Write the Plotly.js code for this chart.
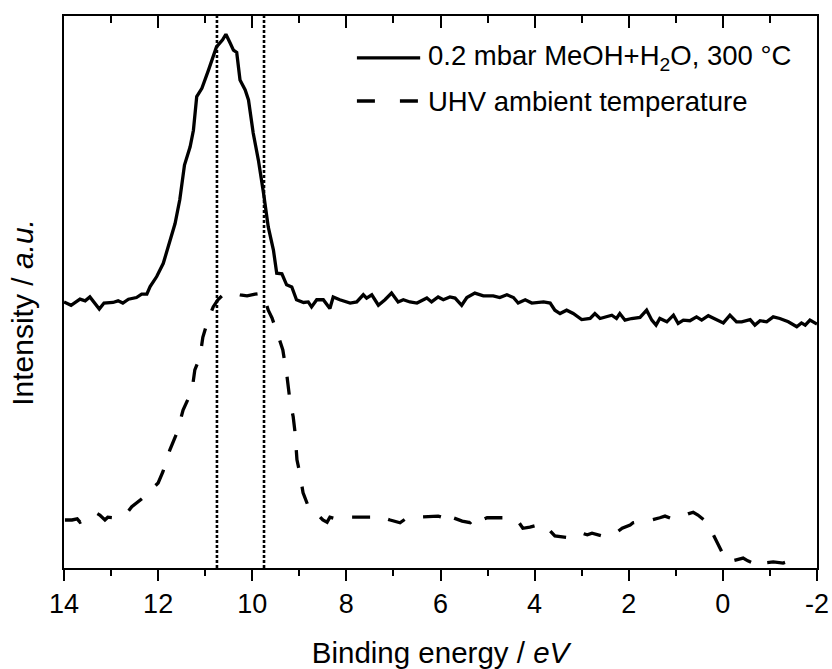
<!DOCTYPE html>
<html>
<head>
<meta charset="utf-8">
<script src="https://cdn.plot.ly/plotly-3.0.1.min.js"></script>
<style>html,body{margin:0;padding:0;background:#fff;}</style>
</head>
<body>
<div id="chart" style="width:832px;height:669px;"></div>
<script>
// Binding energy (eV) and intensity (a.u.)
const seriesNames = ["0.2 mbar MeOH+H<sub>2</sub>O, 300 °C", "UHV ambient temperature"];

const solidX = [14.0,13.85,13.66,13.55,13.45,13.36,13.25,13.15,12.96,12.85,12.75,12.63,12.46,12.35,12.24,12.17,12.03,11.89,11.75,11.64,11.54,11.44,11.32,11.25,11.18,11.07,10.93,10.76,10.63,10.56,10.47,10.40,10.33,10.26,10.15,10.08,9.98,9.87,9.76,9.66,9.55,9.48,9.37,9.27,9.16,9.06,8.91,8.81,8.74,8.63,8.49,8.35,8.28,8.14,7.92,7.78,7.64,7.57,7.46,7.32,7.18,7.04,6.90,6.79,6.65,6.50,6.29,6.19,6.05,5.94,5.80,5.69,5.55,5.44,5.27,5.09,4.88,4.74,4.59,4.45,4.35,4.20,4.06,3.81,3.67,3.57,3.46,3.32,3.18,3.00,2.82,2.72,2.61,2.47,2.36,2.26,2.19,2.08,1.94,1.76,1.62,1.51,1.42,1.34,1.19,1.05,0.95,0.84,0.70,0.56,0.45,0.31,0.13,-0.01,-0.15,-0.29,-0.40,-0.58,-0.68,-0.79,-0.93,-1.07,-1.21,-1.39,-1.57,-1.67,-1.75,-1.85,-2.0];
const solidY = [48.2,47.6,48.7,48.4,49.1,48.2,46.9,48.0,48.1,48.4,48.0,48.7,49.0,49.6,49.6,51.0,52.8,55.2,59.4,62.4,66.7,73.0,76.3,79.3,85.4,86.9,90.2,94.4,95.7,96.7,95.1,93.8,93.4,88.4,86.6,84.8,78.8,73.9,67.9,61.8,57.6,53.4,53.3,51.3,50.9,48.6,48.1,48.2,47.3,48.6,48.6,47.0,49.1,48.6,48.0,48.2,49.5,48.9,49.5,47.6,48.6,49.8,48.2,48.6,48.2,48.0,48.9,48.2,49.1,48.6,49.1,48.9,47.6,49.0,49.8,49.3,49.3,49.0,49.5,49.0,48.0,48.6,48.0,48.2,48.0,46.7,46.1,46.7,46.1,45.0,45.2,46.1,45.2,45.5,45.8,45.2,46.1,44.9,45.2,45.4,46.7,44.9,44.0,45.2,44.6,45.8,44.3,44.9,44.8,45.5,44.9,45.7,45.0,44.4,45.8,44.6,44.6,45.0,44.0,44.8,44.6,45.5,45.2,44.6,43.7,44.4,44.0,44.9,44.2];

const dashX = [13.98,13.83,13.72,13.66,13.49,13.32,13.24,13.13,13.07,12.92,12.77,12.66,12.56,12.45,12.28,12.11,12.00,11.90,11.75,11.60,11.47,11.28,11.22,11.11,11.05,10.94,10.83,10.73,10.62,10.52,10.41,10.26,10.11,9.94,9.77,9.66,9.58,9.47,9.35,9.26,9.20,9.13,9.09,9.05,8.99,8.92,8.82,8.71,8.60,8.50,8.41,8.35,8.22,8.09,7.92,7.65,7.43,7.33,7.25,7.07,6.86,6.71,6.50,6.27,6.05,5.97,5.84,5.73,5.54,5.37,5.22,5.12,5.01,4.80,4.59,4.37,4.25,4.10,3.93,3.82,3.71,3.57,3.35,3.18,2.99,2.88,2.78,2.57,2.33,2.14,1.97,1.91,1.72,1.51,1.34,1.23,1.08,0.91,0.74,0.63,0.53,0.34,0.23,0.12,0.01,-0.11,-0.26,-0.43,-0.53,-0.64,-0.75,-0.85,-1.07,-1.28,-1.43,-1.58,-1.70];
const dashY = [8.7,8.7,8.9,8.3,8.9,10.0,9.6,8.7,9.2,9.1,9.4,10.0,11.1,11.8,13.0,14.5,15.4,17.4,21.4,24.5,28.6,32.2,35.9,38.2,41.8,44.9,47.3,48.6,49.5,49.8,49.8,49.5,49.3,49.6,49.8,46.7,45.3,42.6,39.5,34.6,30.4,27.4,24.5,19.6,17.2,13.6,11.4,10.1,9.6,8.7,8.3,9.2,8.9,9.1,9.2,9.2,9.2,8.9,9.2,8.7,8.2,9.1,9.2,9.2,9.4,9.2,8.0,9.1,8.5,8.2,9.6,8.7,9.1,9.1,9.1,8.7,7.2,7.4,7.8,6.9,7.1,5.8,5.6,5.4,6.3,6.0,6.3,5.8,6.0,7.2,7.8,8.2,8.5,8.7,9.1,9.4,8.9,9.2,9.8,10.1,9.6,8.3,6.5,4.5,2.7,1.1,1.4,1.8,1.3,0.9,1.6,0.9,1.1,0.9,1.3,1.4,0.9];

const markerLines = [10.75, 9.75];   // vertical dotted reference lines (eV)
const xTickVals = [14,12,10,8,6,4,2,0,-2];
const xTickText = ["14","12","10","8","6","4","2","0","-2"];
const xTitle = "Binding energy / <i>eV</i>";
const yTitle = "Intensity / <i>a.u.</i>";

const FONT = "Arial, 'Liberation Sans', sans-serif";

const traces = [
  {x: solidX, y: solidY, type: "scatter", mode: "lines", name: seriesNames[0],
   line: {color: "#000", width: 3.3}, showlegend: false},
  {x: dashX, y: dashY, type: "scatter", mode: "lines", name: seriesNames[1],
   line: {color: "#000", width: 3.3, dash: "18px,19px"}, showlegend: false}
];
markerLines.forEach(v => traces.push({
  x: [v, v], y: [0, 100], type: "scatter", mode: "lines", xaxis: "x2", yaxis: "y",
  line: {color: "#000", width: 2.6, dash: "3px,2px"}, showlegend: false, hoverinfo: "skip"
}));

// custom legend (paper coords)
const legX0 = 0.389, legX1 = 0.473, legTx = 0.481;
const legY = [0.924, 0.846];
const shapes = [
  {type: "line", xref: "paper", yref: "paper", x0: legX0, x1: legX1, y0: legY[0], y1: legY[0],
   line: {color: "#000", width: 3.3}},
  {type: "line", xref: "paper", yref: "paper", x0: legX0, x1: legX1, y0: legY[1], y1: legY[1],
   line: {color: "#000", width: 3.3, dash: "18px,25px"}}
];
const annotations = seriesNames.map((t, i) => ({
  text: t, xref: "paper", yref: "paper", x: legTx, y: legY[i], xanchor: "left", yanchor: "middle",
  showarrow: false, font: {family: FONT, size: 27.5, color: "#000"}
}));
// y-axis title placed as rotated text left of the frame
annotations.push({
  text: yTitle, xref: "paper", yref: "paper", x: -0.0545, y: 0.464,
  xanchor: "center", yanchor: "middle", textangle: -90, showarrow: false,
  font: {family: FONT, size: 30, color: "#000"}
});

const layout = {
  width: 832, height: 669,
  margin: {l: 64, r: 15, t: 16, b: 101},
  paper_bgcolor: "#fff", plot_bgcolor: "#fff",
  font: {family: FONT, color: "#000"},
  showlegend: false,
  xaxis: {
    range: [14, -2], autorange: false,
    tickvals: xTickVals, ticktext: xTickText,
    ticks: "outside", ticklen: 11, tickwidth: 2, tickcolor: "#000",
    minor: {dtick: 1, ticks: "outside", ticklen: 6, tickwidth: 2, tickcolor: "#000", showgrid: false},
    showline: true, linewidth: 2, linecolor: "#000",
    showgrid: false, zeroline: false,
    tickfont: {family: FONT, size: 27, color: "#000"},
    title: {text: xTitle, font: {family: FONT, size: 29.5, color: "#000"}, standoff: 25},
    automargin: false
  },
  xaxis2: {
    overlaying: "x", side: "top", anchor: "y",
    range: [14, -2], autorange: false,
    tickvals: xTickVals, showticklabels: false,
    ticks: "inside", ticklen: 12, tickwidth: 2, tickcolor: "#000",
    minor: {dtick: 1, ticks: "inside", ticklen: 7, tickwidth: 2, tickcolor: "#000", showgrid: false},
    showline: true, linewidth: 2, linecolor: "#000",
    showgrid: false, zeroline: false
  },
  yaxis: {
    range: [0, 100], autorange: false,
    showticklabels: false, ticks: "",
    showline: true, linewidth: 2, linecolor: "#000", mirror: true,
    showgrid: false, zeroline: false,
    automargin: false
  },
  shapes: shapes,
  annotations: annotations
};

Plotly.newPlot("chart", traces, layout, {displayModeBar: false, staticPlot: true});
</script>
</body>
</html>
